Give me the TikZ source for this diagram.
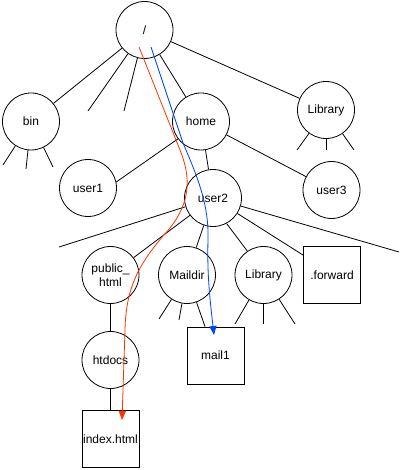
\documentclass[tikz,border=0pt]{standalone}
\usepackage{fontspec}
\setmainfont{Liberation Sans}
\usetikzlibrary{arrows.meta,calc}
\definecolor{pathred}{RGB}{255,51,0}
\definecolor{pathblue}{RGB}{0,64,255}
\begin{document}
\begin{tikzpicture}[x=1pt,y=-1pt,line width=0.8pt,
  dirnode/.style={circle,draw,minimum size=57pt,inner sep=0pt,align=center,font=\fontsize{12}{14}\selectfont},
  filenode/.style={rectangle,draw,minimum size=57pt,inner sep=0pt,align=center,font=\fontsize{12}{14}\selectfont},
  link/.style={draw=black,line width=0.8pt},
  route/.style={line width=0.8pt,-{Triangle[width=7pt,length=9pt]}}]
\useasboundingbox (0,0) rectangle (402,470);
% nodes
\node[dirnode] (root) at (144.5,30) {/};
\node[dirnode] (bin) at (31,121.5) {bin};
\node[dirnode] (home) at (201,121.5) {home};
\node[dirnode] (lib) at (326,110) {Library};
\node[dirnode] (user1) at (88,188) {user1};
\node[dirnode] (user2) at (213,198) {user2};
\node[dirnode] (user3) at (331.5,190) {user3};
\node[dirnode] (pub) at (110.5,275) {public\_\\html};
\node[dirnode] (maildir) at (187,275) {Maildir};
\node[dirnode] (lib2) at (263.5,275) {Library};
\node[filenode] (fwd) at (332,275) {.forward};
\node[dirnode] (htdocs) at (110.5,360) {htdocs};
\node[filenode] (mail1) at (215.5,355.5) {mail1};
\node[filenode] (index) at (110.5,439) {index.html};
% stub end points
\coordinate (rs1) at (88,111);
\coordinate (rs2) at (124,111);
\coordinate (bs1) at (3,165);
\coordinate (bs2) at (26,169);
\coordinate (bs3) at (53,167);
\coordinate (ls1) at (297,150);
\coordinate (ls2) at (326,150);
\coordinate (ls3) at (354,150);
\coordinate (us1) at (59,247);
\coordinate (us2) at (399,252);
\coordinate (ms1) at (159,319);
\coordinate (ms2) at (179,320);
\coordinate (l2s1) at (235,324);
\coordinate (l2s2) at (263.5,324);
\coordinate (l2s3) at (295,324);
% edges
\draw[link] (root) -- (bin);
\draw[link] (root) -- (rs1);
\draw[link] (root) -- (rs2);
\draw[link] (root) -- (home);
\draw[link] (root) -- (lib);
\draw[link] (bin) -- (bs1);
\draw[link] (bin) -- (bs2);
\draw[link] (bin) -- (bs3);
\draw[link] (lib) -- (ls1);
\draw[link] (lib) -- (ls2);
\draw[link] (lib) -- (ls3);
\draw[link] (home.217) -- (user1.12);
\draw[link] (home) -- (user2);
\draw[link] (home) -- (user3);
\draw[link] (user2) -- (us1);
\draw[link] (user2) -- (pub);
\draw[link] (user2) -- (maildir);
\draw[link] (user2.-62) -- (lib2.124);
\draw[link] (user2) -- ([yshift=-9pt]fwd.north west);
\draw[link] (user2) -- (us2);
\draw[link] (maildir) -- (ms1);
\draw[link] (maildir) -- (ms2);
\draw[link] (maildir) -- ([xshift=-10.5pt]mail1.north);
\draw[link] (lib2) -- (l2s1);
\draw[link] (lib2) -- (l2s2);
\draw[link] (lib2) -- (l2s3);
\draw[link] (pub) -- (htdocs);
\draw[link] (htdocs) -- (index);
% routes
\coordinate (redstart) at (139,47);
\coordinate (redend) at (122,420);
\coordinate (bluestart) at (151,47);
\coordinate (blueend) at (214,335);
\draw[route,pathred] (redstart) -- (180,150) .. controls (190,175) and (192,200) .. (170,228)
  .. controls (140,262) and (126,285) .. (125,330) -- (redend);
\draw[route,pathblue] (bluestart) -- (183,143) .. controls (198,178) and (209,205) .. (208,240)
  .. controls (207,275) and (210,300) .. (blueend);
\end{tikzpicture}
\end{document}
